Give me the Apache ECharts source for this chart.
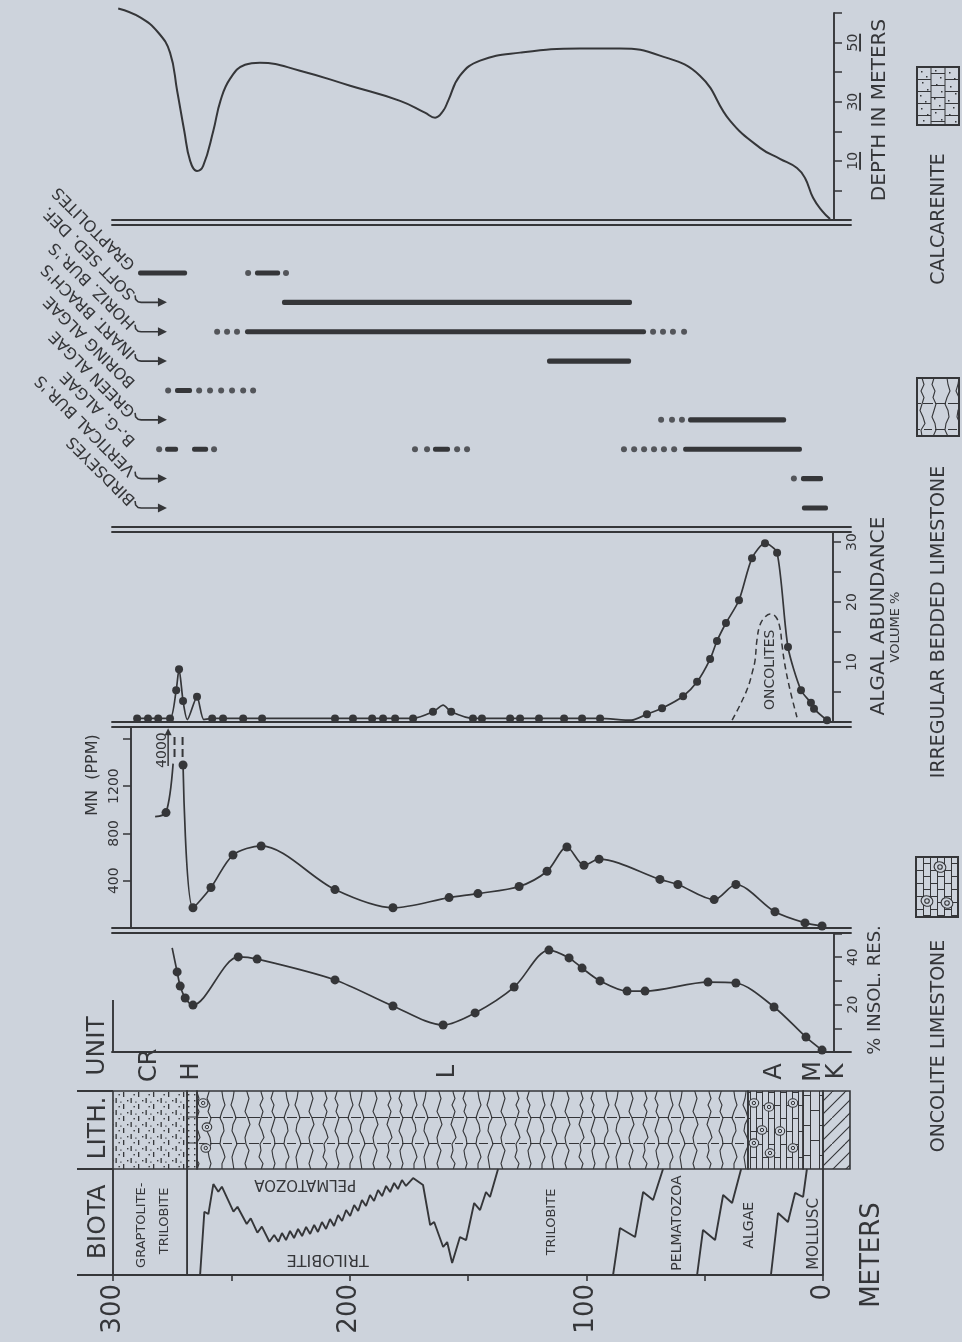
<!DOCTYPE html>
<html>
<head>
<meta charset="utf-8">
<title>Stratigraphic section</title>
<script src="https://cdn.jsdelivr.net/npm/echarts@6.0.0/dist/echarts.min.js"></script>
<style>
html,body{margin:0;padding:0;background:#cdd3dc;}
#chart{width:962px;height:1342px;}
</style>
</head>
<body>
<div id="chart"></div>
<script>
// ================= DATA =================
const meterLabels = [0, 100, 200, 300];
const depthTickLabels = [10, 30, 50];
const algalTickLabels = [10, 20, 30];
const mnTickLabels = [400, 800, 1200];
const insolTickLabels = [20, 40];

// depth curve: [stratigraphic metres, depth in metres]
const depthCurve = [[297.8,61.5],[288.5,58.5],[280.9,53.4],[275.9,46.6],[272.9,33.7],[269.9,20.2],[267.4,10],[264.5,6.6],[261.9,8.3],[257.6,20.2],[254.6,30.3],[250.5,37.8],[244.2,42.5],[237.9,43.2],[221,40.5],[199.8,35.4],[178.7,30.3],[168.2,26.3],[163.9,24.6],[160.5,26.9],[158.4,30.3],[153.4,38.8],[144.9,43.9],[128,46.6],[102.7,48],[85.8,48],[68.9,45.6],[52,38.8],[39.3,23.6],[26.6,14.4],[18.2,10.7],[11,7.6],[7.6,4.2],[4.2,-2.5],[0.4,-6.9],[-3,-9.7]];

// occurrence chart
const occRows = ['GRAPTOLITES','SOFT SED. DEF.',"HORIZ. BUR.'S","INART. BRACH'S",'BORING ALGAE','GREEN ALGAE','B.-G. ALGAE',"VERTICAL BUR.'S",'BIRDSEYES'];
const occHasArrow = [false,true,true,true,false,true,false,true,true];
const occSolid = [ // [row, from m, to m]
 [0,289.4,268.7],[0,240.0,229.4],
 [1,228.6,80.7],
 [2,244.2,74.8],
 [3,116.6,81.1],
 [4,273.8,266.6],
 [5,57.0,15.6],
 [6,278.0,272.5],[6,266.6,259.8],[6,164.8,157.6],[6,59.1,8.9],
 [7,9.3,0],
 [8,8.9,-2.1]
];
const occDots = [ // [row, m]
 [0,242.9],[0,226.9],
 [2,256.0],[2,251.8],[2,247.6],[2,71.8],[2,67.6],[2,63.4],[2,58.7],
 [4,276.7],[4,263.6],[4,259.0],[4,254.3],[4,249.7],[4,245.0],[4,240.8],
 [5,68.4],[5,63.8],[5,59.6],
 [6,280.5],[6,257.3],[6,172.4],[6,167.3],[6,154.6],[6,150.4],[6,84.1],[6,79.8],[6,75.6],[6,71.4],[6,67.2],[6,62.9],
 [7,12.3]
];

// algal abundance, volume %
const algal = [[289.8,0.6],[285.2,0.6],[280.9,0.6],[275.9,0.6],[273.3,5.3],[272.1,8.8],[270.4,3.5],{value:[268.6,0.4],symbol:'none'},[264.5,4.2],{value:[261.6,0.4],symbol:'none'},[258.1,0.6],[253.5,0.6],[245,0.6],[237,0.6],[206.2,0.6],[198.6,0.6],[190.5,0.6],[185.9,0.6],[180.8,0.6],[173.2,0.6],[164.8,1.7],{value:[160.5,2.8],symbol:'none'},[157.1,1.7],[147.9,0.6],[144.1,0.6],[132.2,0.6],[128,0.6],[120,0.6],[109.4,0.6],[101.8,0.6],[94.2,0.6],{value:[81,0.3],symbol:'none'},[74.4,1.3],[68,2.3],[59.1,4.3],[53.2,6.7],[47.7,10.5],[44.8,13.5],[41,16.5],[35.5,20.3],[30,27.3],[24.5,29.8],[19.4,28.2],[14.8,12.5],[9.3,5.3],[5.1,3.2],[3.8,2.2],[-1.7,0.3]];
const oncolites = [[38.4,0.3],[35.1,2.8],[31.7,5.8],[29.6,8.7],[28.7,10.3],[27.9,13.7],[26.6,16.2],[24.5,17.5],[22.4,18],[19.9,17.5],[18.2,15.7],[17.3,12.8],[16.1,9.5],[13.9,5.3],[11,0.8]];

// manganese, ppm
const mnLow = [{value:[282.2,942],symbol:'none'},[277.6,976],{value:[274.6,1390],symbol:'none'}];
const mnMain = [[270.4,1379],[266.2,171],[258.6,343],[249.3,617],[237.4,694],[206.2,325],[181.7,171],[158,257],[145.8,291],[128.4,351],[116.6,480],[108.2,685],[101,531],[94.6,582],[68.9,411],[61.3,368],[46,240],[36.8,368],[20.3,137],[7.6,43],[0.4,17]];
const mnPeakValue = '4000';

// insoluble residue, %
const insol = [{value:[275,43.9],symbol:'none'},[272.9,33.8],[271.6,27.8],[269.5,22.8],[266.2,19.8],[247.1,40.1],[239.1,39.2],[206.2,30.4],[181.7,19.4],[160.5,11.4],[147,16.5],[130.5,27.4],[115.8,43],[107.3,39.7],[101.8,35.4],[94.2,30],[82.8,25.7],[75.2,25.7],[48.6,29.5],[36.8,29.1],[20.7,19],[7.2,6.3],[0.4,0.8]];

// units: [name, m, level]
const units = [['CR',284.3,66],['H',266.6,50],['L',158.6,50],['A',20.3,50],['M',3.8,50],['K',-5.9,50]];

// lithology intervals
const lithFrom = [300, 268.7, 264.5, 31.7, 8.4, 0];
const lithTo   = [268.7, 264.5, 31.7, 8.4, 0, -11.4];
const lithType = ['calcarenite','calcDots','irregular','oncolite','limestone','dolomite'];
const lithOncolites = [[261.9,84.6],[260.3,53.8],[260.8,26.9],[29.2,84.6],[22.8,79.5],[12.7,84.6],[25.8,50],[18.2,48.7],[29.2,33.3],[22.4,20.5],[12.7,26.9]];

// biota boundaries [m, level 0-100]
const biotaLine1 = [[263.2,0],[261.4,59.7],[259.7,57.5],[257.6,85.8],[255.5,78.6],[254.0,83.3],[249.1,59.7],[247.4,64.4],[243.5,48.1],[241.8,53.5],[239.0,39.9],[237.1,45.6],[233.9,31.4],[231.9,37.7],[230.1,31.4],[228.6,39.6],[226.9,33.0],[225.2,41.5],[223.5,34.9],[221.8,43.4],[220.1,36.8],[218.4,45.3],[216.7,38.7],[215.0,47.2],[213.4,40.6],[211.7,50.0],[210.0,43.4],[208.3,52.8],[206.6,46.2],[204.9,56.6],[203.2,50.9],[201.5,61.3],[199.8,55.7],[198.1,66.0],[196.4,60.4],[194.8,70.8],[193.1,65.1],[191.4,75.5],[189.7,69.8],[188.0,80.2],[186.3,74.5],[184.6,84.0],[182.9,78.3],[181.2,86.8],[179.6,81.1],[177.9,89.6],[176.2,84.0],[173.2,91.5],[169.0,84.9],[166.0,47.2],[164.3,50.0],[160.5,26.4],[158.8,31.1],[156.7,11.3],[153.4,35.8],[150.8,33.0],[147.4,67.9],[144.9,61.3],[142.4,78.3],[140.7,73.6],[137.3,100]];
const biotaLine2 = [[88.7,0],[85.8,44.3],[79.4,35.8],[76.0,78.3],[71.8,70.8],[67.6,100]];
const biotaLine3 = [[53.2,0],[50.7,42.5],[45.6,33.0],[42.2,75.5],[38.4,67.9],[34.6,100]];
const biotaLine4 = [[22.0,0],[19.0,58.5],[14.8,50.0],[11.8,77.4],[8.4,73.6],[6.8,100]];
const biotaBorders = [300, 268.7, 0];
// biota labels: [text, m, level, rotation deg, font size]
const biotaLabels = [['GRAPTOLITE-',287.9,47,90,13],['TRILOBITE',278,51,90,13],['PELMATOZOA',218.8,85.8,180,15],['TRILOBITE',209.3,15.1,180,16],['TRILOBITE',114.7,50,90,13],['PELMATOZOA',61.7,49,90,14],['ALGAE',31.3,47,90,14],['MOLLUSC',3.6,38.7,90,15]];

// ================= STYLE =================
const INK = '#353639';
const BG = '#cdd3dc';
const FONT = 'DejaVu Sans';
const X_MIN = -11.83, X_MAX = 300.42;

function mk(w,h,fn){const c=document.createElement('canvas');c.width=w;c.height=h;const g=c.getContext('2d');g.strokeStyle=INK;g.fillStyle=INK;fn(g,w,h);return c;}
const patCalc = mk(15,12,g=>{g.fillRect(3,0,1.3,5);g.fillRect(10.5,6,1.3,5);g.fillRect(7,8,1.4,1.4);g.fillRect(13.5,2,1.4,1.4);g.fillRect(0.3,9.5,1.2,1.2);});
const patDots = mk(6,6,g=>{g.fillRect(2,2,1.4,1.4);});
function drawIrr(g){
  g.lineWidth=1.1;
  const bases=[5,17,30,42,55];
  const offs=[[0,2,-1,2,0,-2,1,3,-1,0,-2,2,0],[0,-2,1,-1,2,0,-2,1,2,-1,0,2,0],[0,1,3,0,-2,1,2,-1,-2,1,3,0,0],[0,-1,-3,0,2,-1,-2,1,3,0,-2,-1,0],[0,2,0,-2,1,3,0,-2,-1,2,0,-2,0]];
  bases.forEach((b,j)=>{g.beginPath();offs[j].forEach((o,k)=>{const y=k*6.5,x=b+o;k?g.lineTo(x,y):g.moveTo(x,y);});g.stroke();});
  g.lineWidth=1;g.beginPath();
  [[25.5,[[0,4],[6,16],[18,29],[31,41],[43,54],[56,64]]],[51.5,[[0,3],[7,15],[18,28],[31,40],[44,53],[57,64]]]].forEach(([y,segs])=>{segs.forEach(([a,b])=>{g.moveTo(a,y);g.lineTo(b,y);});});
  g.stroke();
}
const patIrr = mk(64,78,drawIrr);
const patBrick = mk(18,30,g=>{g.lineWidth=1;g.beginPath();g.moveTo(0.5,0);g.lineTo(0.5,30);g.moveTo(9.5,0);g.lineTo(9.5,30);g.moveTo(0,0.5);g.lineTo(9.5,0.5);g.moveTo(9.5,15.5);g.lineTo(18,15.5);g.stroke();});
const patOncBrick = mk(12,26,g=>{g.lineWidth=1;g.beginPath();g.moveTo(0.5,0);g.lineTo(0.5,26);g.moveTo(6.5,0);g.lineTo(6.5,26);g.moveTo(0,0.5);g.lineTo(6.5,0.5);g.moveTo(6.5,13.5);g.lineTo(12,13.5);g.stroke();});
const patDolo = mk(26,26,g=>{g.lineWidth=1.1;g.beginPath();[-13,0,13].forEach(o=>{g.moveTo(o,26);g.lineTo(o+26,0);});g.stroke();});
const patterns = {calcarenite:patCalc, calcDots:patDots, irregular:patIrr, oncolite:patOncBrick, limestone:patBrick, dolomite:patDolo};

function oncol(g,cx,cy,r){g.lineWidth=1.1;g.fillStyle=BG;g.beginPath();g.ellipse(cx,cy,r,r*0.85,0.4,0,2*Math.PI);g.fill();g.stroke();g.beginPath();g.arc(cx,cy,r*0.38,0,2*Math.PI);g.stroke();g.fillStyle=INK;}
const legCalc = mk(42,58,g=>{g.fillStyle=BG;g.fillRect(0,0,42,58);g.fillStyle=INK;g.lineWidth=1;g.beginPath();[0.5,14,28,41.5].forEach(x=>{g.moveTo(x,0);g.lineTo(x,58);});
  for(let c=0;c<3;c++){for(let r=0;r<6;r++){const y=r*12+(c%2?6:0)+0.5;g.moveTo(c*14,y);g.lineTo(c*14+14,y);}}g.stroke();
  [[4,4],[9,9],[5,15],[10,22],[3,28],[8,34],[4,41],[10,47],[6,53],[18,3],[23,10],[19,17],[24,24],[17,31],[22,38],[18,45],[24,52],[32,5],[37,11],[33,19],[38,26],[31,33],[36,40],[32,47],[38,54]].forEach(([x,y])=>g.fillRect(x,y,1.5,1.5));});
const legIrr = mk(42,58,g=>{g.fillStyle=BG;g.fillRect(0,0,42,58);g.strokeStyle=INK;drawIrr(g);});
const legOnc = mk(42,60,g=>{g.fillStyle=BG;g.fillRect(0,0,42,60);g.lineWidth=1;g.beginPath();for(let x=0.5;x<42;x+=7){g.moveTo(x,0);g.lineTo(x,60);}
  for(let c=0;c<6;c++){for(let r=0;r<5;r++){const y=r*13+(c%2?6:0)+0.5;g.moveTo(c*7,y);g.lineTo(c*7+7,y);}}g.stroke();
  oncol(g,24,10,6);oncol(g,11,44,6);oncol(g,31,46,6);});
// underline image for depth labels
const ulCanvas = mk(16,16,g=>{g.fillRect(0,14,16,2);});

// ================= CHART =================
const chart = echarts.init(document.getElementById('chart'), null, {renderer:'canvas'});
const lineW = 1.9;
function xAx(grid,pos,show){return {type:'value',gridIndex:grid,position:pos,min:X_MIN,max:X_MAX,inverse:true,axisLine:{show:show,onZero:false,lineStyle:{color:INK,width:lineW}},axisTick:{show:false},axisLabel:{show:false},splitLine:{show:false}};}
function hidY(grid,min,max,inv){return {type:'value',gridIndex:grid,min:min,max:max,inverse:!!inv,show:false,splitLine:{show:false}};}
function valY(grid,pos,offset,min,max,interval,labels,margin,rich){
  return {type:'value',gridIndex:grid,position:pos,offset:offset,min:min,max:max,interval:interval,
    axisLine:{show:true,onZero:false,lineStyle:{color:INK,width:lineW}},
    axisTick:{show:true,length:8,lineStyle:{color:INK,width:1.5}},
    axisLabel:{show:true,rotate:90,margin:margin,color:INK,fontSize:14,fontFamily:FONT,showMinLabel:true,showMaxLabel:true,
      formatter:v=>labels.includes(Math.round(v))&&Math.abs(v-Math.round(v))<1e-6?(rich?'{u|'+Math.round(v)+'}':String(Math.round(v))):'',
      rich:rich||{}},
    splitLine:{show:false}};
}
const txt = (text,size,rot,extra)=>Object.assign({text:text,fill:INK,fontSize:size,fontFamily:FONT,align:'center',verticalAlign:'middle'},extra||{});

const grids = [
  {left:112,top:13,width:739,height:207},   //0 depth
  {left:112,top:225,width:739,height:302},  //1 occurrence
  {left:112,top:532,width:739,height:190},  //2 algal
  {left:112,top:727,width:739,height:201},  //3 MN
  {left:112,top:933,width:739,height:119},  //4 insol
  {left:112,top:1052,width:739,height:39},  //5 unit
  {left:112,top:1091,width:739,height:78},  //6 lith
  {left:113,top:1169,width:710,height:106}  //7 biota
].map(g=>Object.assign({outerBoundsMode:'none',containLabel:false},g));

const xAxes = [
  xAx(0,'bottom',true),  //0
  xAx(1,'top',true),     //1
  xAx(1,'bottom',true),  //2
  xAx(2,'top',true),     //3
  xAx(2,'bottom',true),  //4
  xAx(3,'top',true),     //5
  xAx(3,'bottom',true),  //6
  xAx(4,'top',true),     //7
  xAx(4,'bottom',true),  //8
  xAx(5,'bottom',false), //9
  xAx(6,'bottom',false), //10
  {type:'value',gridIndex:7,position:'bottom',min:0,max:300,interval:50,inverse:true,
   axisLine:{show:true,onZero:false,lineStyle:{color:INK,width:lineW}},
   axisTick:{show:true,length:6,lineStyle:{color:INK,width:1.6}},
   axisLabel:{show:true,rotate:90,margin:9,fontSize:26,fontFamily:FONT,color:INK,showMinLabel:true,showMaxLabel:true,
     formatter:v=>meterLabels.includes(v)?String(v):''},
   splitLine:{show:false}} //11
];

const yAxes = [
  valY(0,'right',-17,-10,60,10,depthTickLabels,12,{u:{fontSize:14,fontFamily:FONT,color:INK,backgroundColor:{image:ulCanvas},padding:[0,0,1,0]}}), //0
  hidY(1,-1.634,8.647,true), //1
  valY(2,'right',-18,0,31.67,5,algalTickLabels,12), //2
  valY(3,'left',-19,0,1700,400,mnTickLabels,10), //3
  valY(4,'right',-17,0,50.2,10,insolTickLabels,12), //4
  hidY(5,0,100), //5
  hidY(6,0,100), //6
  hidY(7,0,100)  //7
];

const dotStyle = {color:INK};
const series = [];
// depth curve
series.push({type:'line',xAxisIndex:0,yAxisIndex:0,data:depthCurve,smooth:0.45,symbol:'none',clip:false,lineStyle:{color:INK,width:2}});
// occurrence bars
series.push({type:'custom',xAxisIndex:1,yAxisIndex:1,data:occSolid.map(d=>[d[1],d[2],d[0]]),encode:{x:[0,1],y:2},
  renderItem:(p,api)=>{const a=api.coord([api.value(0),api.value(2)]);const b=api.coord([api.value(1),api.value(2)]);
    return {type:'rect',shape:{x:a[0],y:a[1]-2.6,width:b[0]-a[0],height:5.2,r:2},style:{fill:INK}};}});
series.push({type:'scatter',xAxisIndex:1,yAxisIndex:1,data:occDots.map(d=>[d[1],d[0]]),symbol:'circle',symbolSize:6,itemStyle:dotStyle});
// occurrence labels with hooked arrows
series.push({type:'custom',xAxisIndex:1,yAxisIndex:1,data:occRows.map((t,i)=>[291.5,i]),encode:{x:0,y:1},
  renderItem:(p,api)=>{const i=p.dataIndex;const c=api.coord([api.value(0),api.value(1)]);
    const ch=[{type:'text',x:c[0],y:c[1]-6,rotation:3*Math.PI/4,style:txt(occRows[i],16,0,{align:'left'})}];
    if(occHasArrow[i]){const tip=api.coord([277.2,api.value(1)]);const y=c[1];
      ch.push({type:'polyline',shape:{points:[[c[0]+2,y-7],[c[0]+2.5,y-3],[c[0]+5,y-0.5],[c[0]+8,y],[tip[0]-7,y]]},style:{stroke:INK,lineWidth:1.6,fill:null}});
      ch.push({type:'polygon',shape:{points:[[tip[0]-9,y-4.5],[tip[0],y],[tip[0]-9,y+4.5]]},style:{fill:INK}});}
    return {type:'group',children:ch};}});
// algal abundance
series.push({type:'line',xAxisIndex:3,yAxisIndex:2,data:algal,smooth:0.25,symbol:'circle',symbolSize:8,clip:false,itemStyle:dotStyle,lineStyle:{color:INK,width:1.7}});
series.push({type:'line',xAxisIndex:3,yAxisIndex:2,data:oncolites,smooth:0.4,symbol:'none',lineStyle:{color:INK,width:1.5,type:[6,4]}});
series.push({type:'custom',xAxisIndex:3,yAxisIndex:2,data:[[22.4,8.7]],renderItem:(p,api)=>{const c=api.coord([api.value(0),api.value(1)]);
  return {type:'text',x:c[0],y:c[1],rotation:Math.PI/2,style:txt('ONCOLITES',14,90)};}});
// manganese
const mnStyle = {type:'line',xAxisIndex:5,yAxisIndex:3,smooth:0.3,symbol:'circle',symbolSize:9,clip:false,itemStyle:dotStyle,lineStyle:{color:INK,width:1.7}};
series.push(Object.assign({},mnStyle,{data:mnLow}));
series.push(Object.assign({},mnStyle,{data:mnMain}));
series.push({type:'line',xAxisIndex:5,yAxisIndex:3,data:[[274.0,1447],[274.0,1620]],symbol:'none',lineStyle:{color:INK,width:2,type:[8,4]}});
series.push({type:'line',xAxisIndex:5,yAxisIndex:3,data:[[270.6,1447],[270.6,1620]],symbol:'none',lineStyle:{color:INK,width:2,type:[8,4]}});
series.push({type:'custom',xAxisIndex:5,yAxisIndex:3,data:[[276.7,1370,1690]],encode:{x:0,y:[1,2]},renderItem:(p,api)=>{
  const a=api.coord([api.value(0),api.value(1)]);const b=api.coord([api.value(0),api.value(2)]);
  return {type:'group',children:[
    {type:'line',shape:{x1:a[0],y1:a[1],x2:b[0],y2:b[1]+6},style:{stroke:INK,lineWidth:1.5}},
    {type:'polygon',shape:{points:[[b[0]-3.5,b[1]+7],[b[0],b[1]],[b[0]+3.5,b[1]+7]]},style:{fill:INK}},
    {type:'text',x:a[0]-6,y:(a[1]+b[1])/2+3,rotation:Math.PI/2,style:txt(mnPeakValue,14,90)}]};}});
// insoluble residue
series.push({type:'line',xAxisIndex:7,yAxisIndex:4,data:insol,smooth:0.3,symbol:'circle',symbolSize:9,clip:false,itemStyle:dotStyle,lineStyle:{color:INK,width:1.7}});
// units
series.push({type:'custom',xAxisIndex:9,yAxisIndex:5,data:units.map(u=>[u[1],u[2]]),encode:{x:0,y:1},renderItem:(p,api)=>{
  const c=api.coord([api.value(0),api.value(1)]);
  return {type:'text',x:c[0],y:c[1],rotation:Math.PI/2,style:txt(units[p.dataIndex][0],24,90)};}});
// lithology column
series.push({type:'custom',xAxisIndex:10,yAxisIndex:6,data:lithFrom.map((f,i)=>[f,lithTo[i]]),encode:{x:[0,1]},renderItem:(p,api)=>{
  const i=p.dataIndex;const a=api.coord([api.value(0),100]);const b=api.coord([api.value(1),0]);
  const ch=[{type:'rect',shape:{x:a[0],y:a[1],width:b[0]-a[0],height:b[1]-a[1]},style:{fill:{image:patterns[lithType[i]],repeat:'repeat'},stroke:INK,lineWidth:1.6}}];
  if(lithType[i]==='calcDots'){[1/3,2/3].forEach(f=>{const y=a[1]+(b[1]-a[1])*f;ch.push({type:'line',shape:{x1:a[0],y1:y,x2:b[0],y2:y},style:{stroke:INK,lineWidth:1}});});}
  return {type:'group',children:ch};}});
series.push({type:'custom',xAxisIndex:10,yAxisIndex:6,data:lithOncolites,encode:{x:0,y:1},renderItem:(p,api)=>{
  const c=api.coord([api.value(0),api.value(1)]);
  return {type:'group',children:[
    {type:'ellipse',shape:{cx:c[0],cy:c[1],rx:4.8,ry:4.2},style:{fill:BG,stroke:INK,lineWidth:1.1}},
    {type:'circle',shape:{cx:c[0],cy:c[1],r:1.7},style:{fill:null,stroke:INK,lineWidth:1}}]};}});
// biota
[biotaLine1,biotaLine2,biotaLine3,biotaLine4].forEach(d=>series.push({type:'line',xAxisIndex:11,yAxisIndex:7,data:d,symbol:'none',lineStyle:{color:INK,width:1.9}}));
biotaBorders.forEach(m=>series.push({type:'line',xAxisIndex:11,yAxisIndex:7,data:[[m,0],[m,100]],symbol:'none',lineStyle:{color:INK,width:1.9}}));
series.push({type:'custom',xAxisIndex:11,yAxisIndex:7,data:biotaLabels.map(b=>[b[1],b[2]]),encode:{x:0,y:1},renderItem:(p,api)=>{
  const b=biotaLabels[p.dataIndex];const c=api.coord([api.value(0),api.value(1)]);
  return {type:'text',x:c[0],y:c[1],rotation:b[3]*Math.PI/180,style:txt(b[0],b[4],b[3])};}});

// frame decorations, titles, legend
const L = (x1,y1,x2,y2)=>({type:'line',shape:{x1,y1,x2,y2},style:{stroke:INK,lineWidth:lineW}});
const T = (text,x,y,size)=>({type:'text',x:x,y:y,rotation:Math.PI/2,style:txt(text,size,90)});
const graphic = [
  L(77,1091,113,1091), L(77,1169,113,1169), L(77,1275,113,1275), L(113,1000,113,1052),
  T('UNIT',97,1046,25), T('LITH.',98,1128,25), T('BIOTA',98,1222,25), T('METERS',872,1255,26),
  T('DEPTH IN METERS',880,110,20),
  T('ALGAL ABUNDANCE',879,616,20), T('VOLUME %',896,627,13),
  T('% INSOL. RES.',875,990,18),
  T('MN  (PPM)',93,775,16),
  {type:'image',x:917,y:67,style:{image:legCalc,width:42,height:58}}, {type:'rect',shape:{x:917,y:67,width:42,height:58},style:{fill:null,stroke:INK,lineWidth:2}},
  T('CALCARENITE',939,219,19),
  {type:'image',x:917,y:378,style:{image:legIrr,width:42,height:58}}, {type:'rect',shape:{x:917,y:378,width:42,height:58},style:{fill:null,stroke:INK,lineWidth:2}},
  T('IRREGULAR BEDDED LIMESTONE',939,622,19),
  {type:'image',x:916,y:857,style:{image:legOnc,width:42,height:60}}, {type:'rect',shape:{x:916,y:857,width:42,height:60},style:{fill:null,stroke:INK,lineWidth:2}},
  T('ONCOLITE LIMESTONE',939,1046,19)
];

chart.setOption({
  backgroundColor:BG,
  animation:false,
  grid:grids,
  xAxis:xAxes,
  yAxis:yAxes,
  series:series,
  graphic:{elements:graphic}
});
</script>
</body>
</html>
